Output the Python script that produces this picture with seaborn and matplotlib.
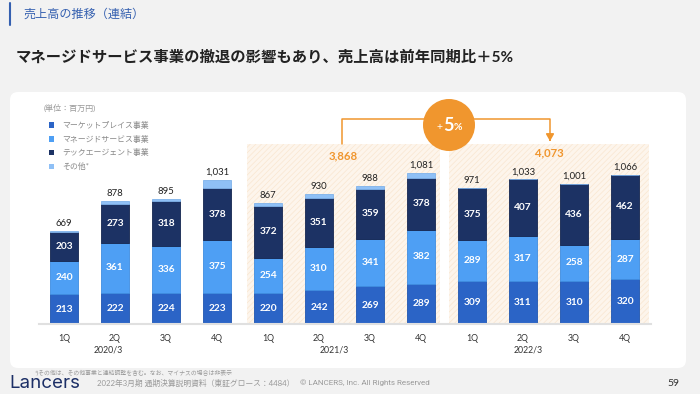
import numpy as np
import pandas as pd
import matplotlib
matplotlib.use("Agg")
import matplotlib.pyplot as plt
import seaborn as sns
from matplotlib.patches import FancyBboxPatch, Rectangle, Circle, Patch

# values (million yen)
quarters = ["1Q", "2Q", "3Q", "4Q"] * 3
years = ["2020/3", "2021/3", "2022/3"]
marketplace = [213, 222, 224, 223, 220, 242, 269, 289, 309, 311, 310, 320]
managed = [240, 361, 336, 375, 254, 310, 341, 382, 289, 317, 258, 287]
tech_agent = [203, 273, 318, 378, 372, 351, 359, 378, 375, 407, 436, 462]
other = [13, 22, 17, 55, 21, 27, 19, 32, 0, 0, 0, 0]
totals = [669, 878, 895, 1031, 867, 930, 988, 1081, 971, 1033, 1001, 1066]
annual = {"2021/3": 3868, "2022/3": 4073}

series_names = ["マーケットプレイス事業", "マネージドサービス事業", "テックエージェント事業", "その他*"]
colors = ["#2b64c6", "#4e9ff4", "#1c3264", "#8fc0f6"]
edges = ["#1f55b0", "#3f8de0", "#142650", "#7fb2ea"]
orange = "#f0962e"

sns.set_theme(style="white")
plt.rcParams["font.family"] = ["Lato", "Noto Sans CJK JP", "DejaVu Sans"]
plt.rcParams["hatch.linewidth"] = 0.5

df = pd.DataFrame({
    "idx": [str(i) for i in range(12)],
    "mp": marketplace, "mg": managed, "ta": tech_agent, "ot": other,
})
order = list(df["idx"])

W, H = 700, 394
fig = plt.figure(figsize=(7, 3.94), dpi=100)
fig.patch.set_facecolor("#f2f2f2")

# background layer in pixel coords
bg = fig.add_axes([0, 0, 1, 1], zorder=0)
bg.set_xlim(0, W)
bg.set_ylim(H, 0)
bg.axis("off")
bg.add_patch(FancyBboxPatch((10, 92), 676, 276, boxstyle="round,pad=0,rounding_size=8",
                            facecolor="white", edgecolor="none"))
bg.plot([10, 10], [3, 25], color="#3560b0", lw=1.5)
bg.text(23, 14, "売上高の推移（連結）", color="#3560b0", fontsize=8.7, va="center", ha="left")
bg.text(16, 57, "マネージドサービス事業の撤退の影響もあり、売上高は前年同期比＋5%",
        color="#222222", fontsize=11.05, fontweight="bold", va="center", ha="left")
bg.text(44, 108, "(単位：百万円)", color="#999999", fontsize=5.8, va="center")
bg.text(35, 372, "*)その他は、その他事業と連結調整を含む。なお、マイナスの場合は非表示",
        color="#999999", fontsize=4.2, va="center")
bg.text(9, 383, "Lancers", color="#1c2f66", fontsize=13.5, va="center",
        family=["Inter", "DejaVu Sans"])
bg.text(97, 383, "2022年3月期 通期決算説明資料（東証グロース：4484）", color="#999999",
        fontsize=5.6, va="center")
bg.text(300, 383, "© LANCERS, Inc. All Rights Reserved", color="#999999",
        fontsize=5.8, va="center", family=["Roboto", "DejaVu Sans"])
bg.text(673, 384, "59", color="#333333", fontsize=7.5, va="center", ha="center")

# main chart
base_px, top_px, left_px = 324, 95, 38.5
ax = fig.add_axes([left_px / W, (H - base_px) / H, 612 / W, (base_px - top_px) / H], zorder=1)
ax.set_facecolor("none")
ymax = 1640

# shaded fiscal-year regions
for x0, x1 in [(3.59, 7.37), (7.55, 11.47)]:
    ax.add_patch(Rectangle((x0, 0), x1 - x0, 1288, facecolor="#fdf5ec", hatch="//////",
                           edgecolor="#f9e6d0", linewidth=0, zorder=0))

bottoms = np.zeros(12)
for col, c, e in zip(["mp", "mg", "ta", "ot"], colors, edges):
    sns.barplot(data=df, x="idx", y=col, order=order, color=c, width=0.53,
                bottom=bottoms.copy(), edgecolor=e, linewidth=0.6, saturation=1,
                ax=ax, zorder=2)
    bottoms += df[col].values

# labels inside segments
cum = np.zeros(12)
for vals in [marketplace, managed, tech_agent]:
    for i, v in enumerate(vals):
        ax.text(i, cum[i] + v / 2, f"{v}", color="white", fontsize=7.3, fontweight="bold",
                ha="center", va="center", zorder=4)
    cum += np.array(vals)

for i, t in enumerate(totals):
    ax.text(i, bottoms[i] + 22, f"{t:,}", color="#222222", fontsize=6.8,
            ha="center", va="bottom", zorder=4)

ax.set_xlim(-0.5, 11.5)
ax.set_ylim(0, ymax)
ax.set_xticks(range(12))
ax.set_xticklabels(quarters, fontsize=6.3, color="#333333")
ax.tick_params(axis="x", length=0, pad=7)
ax.set_yticks([])
ax.set_xlabel("")
ax.set_ylabel("")
for s in ["top", "right", "left"]:
    ax.spines[s].set_visible(False)
ax.spines["bottom"].set_color("#e0e0e0")
ax.spines["bottom"].set_linewidth(1.5)

for x, yr in zip([0.86, 5.29, 9.10], years):
    ax.text(x, -185, yr, color="#333333", fontsize=6.3, ha="center", va="center",
            clip_on=False)

ax.legend(handles=[Patch(facecolor=c, edgecolor="none") for c in colors],
          labels=series_names, loc="upper left", bbox_to_anchor=(45 / W, (H - 117) / H),
          bbox_transform=fig.transFigure, frameon=False, fontsize=5.7,
          labelcolor="#888888", handlelength=0.7, handleheight=0.7,
          handletextpad=1.0, labelspacing=0.72, borderpad=0)

# foreground: annual totals, bracket and growth badge
fg = fig.add_axes([0, 0, 1, 1], zorder=3)
fg.set_xlim(0, W)
fg.set_ylim(H, 0)
fg.axis("off")
fg.text(343, 156, f"{annual['2021/3']:,}", color=orange, fontsize=8.2, fontweight="bold",
        ha="center", va="center")
fg.text(549, 153, f"{annual['2022/3']:,}", color=orange, fontsize=8.2, fontweight="bold",
        ha="center", va="center")
fg.plot([342, 342, 550, 550], [144, 119, 119, 139], color=orange, lw=1.1)
fg.annotate("", xy=(550, 144), xytext=(550, 137),
            arrowprops=dict(arrowstyle="-|>,head_length=0.35,head_width=0.2",
                            color=orange, lw=1.1))
fg.add_patch(Circle((449, 125), 26, facecolor=orange, edgecolor="none"))
fg.text(439, 127, "+", color="white", fontsize=7.5, ha="center", va="center")
fg.text(448.5, 125, "5", color="white", fontsize=13, fontweight="bold", ha="center", va="center")
fg.text(458, 127.5, "%", color="white", fontsize=7.5, fontweight="bold", ha="center", va="center")

fig.savefig("out.png", dpi=100, facecolor=fig.get_facecolor())
